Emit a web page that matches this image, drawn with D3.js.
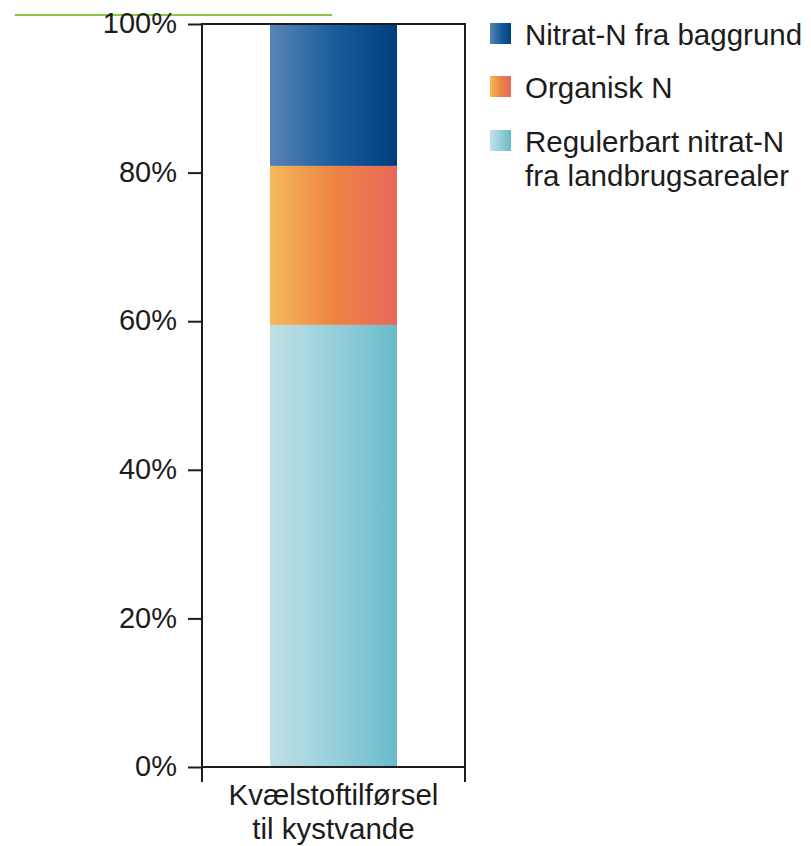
<!DOCTYPE html>
<html>
<head>
<meta charset="utf-8">
<script src="https://cdn.jsdelivr.net/npm/d3@7"></script>
<style>
  html, body { margin: 0; padding: 0; background: #fff; }
  svg { display: block; font-family: "Liberation Sans", Arial, sans-serif; }
</style>
</head>
<body>
<svg id="chart" width="811" height="846"></svg>
<script>
// Share of nitrogen load to coastal waters, by source (percent)
const categories = ["Kvælstoftilførsel\ntil kystvande"];
const seriesNames = ["Regulerbart nitrat-N fra landbrugsarealer", "Organisk N", "Nitrat-N fra baggrund"];
const regulerbart = [59.5];
const organisk = [21.4];
const baggrund = [19.1];
const yTicks = [0, 20, 40, 60, 80, 100];
const legendOrder = ["Nitrat-N fra baggrund", "Organisk N", "Regulerbart nitrat-N\nfra landbrugsarealer"];

const gradientStops = {
  "Nitrat-N fra baggrund": ["#5a84b4", "#1a5e9c", "#003e7c"],
  "Organisk N": ["#f6b95b", "#ec8543", "#e8675b"],
  "Regulerbart nitrat-N fra landbrugsarealer": ["#c0e1e7", "#98cfdb", "#68bbca"]
};

const FONT = "'Liberation Sans', Arial, sans-serif";
const INK = "#1c1c1c";

const svg = d3.select("#chart");
const defs = svg.append("defs");
const gradId = {};
Object.entries(gradientStops).forEach(([name, stops], i) => {
  const id = "grad" + i;
  gradId[name] = id;
  const g = defs.append("linearGradient").attr("id", id)
    .attr("x1", "0%").attr("x2", "100%").attr("y1", "0%").attr("y2", "0%");
  stops.forEach((c, j) => g.append("stop")
    .attr("offset", (j / (stops.length - 1) * 100) + "%").attr("stop-color", c));
});

const plotLeft = 202, plotRight = 465, plotTop = 24, plotBottom = 767;

// decorative rule at the top
svg.append("line").attr("x1", 15).attr("x2", 332).attr("y1", 15).attr("y2", 15)
  .attr("stroke", "#8cc540").attr("stroke-width", 2);

const y = d3.scaleLinear().domain([0, 100]).range([plotBottom, plotTop]);
const x = d3.scaleBand().domain(categories).range([plotLeft, plotRight]).paddingInner(0).paddingOuter(0.535);

// stacked data
const rows = categories.map((c, i) => ({
  cat: c,
  [seriesNames[0]]: regulerbart[i],
  [seriesNames[1]]: organisk[i],
  [seriesNames[2]]: baggrund[i]
}));
const stack = d3.stack().keys(seriesNames)(rows);

svg.append("g").selectAll("g").data(stack).join("g")
  .attr("fill", d => `url(#${gradId[d.key]})`)
  .selectAll("rect").data(d => d).join("rect")
  .attr("x", d => x(d.data.cat))
  .attr("width", x.bandwidth())
  .attr("y", d => y(d[1]))
  .attr("height", d => y(d[0]) - y(d[1]));

// frame
const frame = svg.append("g").attr("stroke", INK).attr("stroke-width", 2).attr("fill", "none");
frame.append("line").attr("x1", plotLeft).attr("x2", plotRight).attr("y1", plotTop).attr("y2", plotTop);
frame.append("line").attr("x1", plotLeft).attr("x2", plotLeft).attr("y1", plotTop - 1).attr("y2", plotBottom + 15);
frame.append("line").attr("x1", plotRight).attr("x2", plotRight).attr("y1", plotTop - 1).attr("y2", plotBottom + 15);
frame.append("line").attr("x1", plotLeft).attr("x2", plotRight).attr("y1", plotBottom).attr("y2", plotBottom);

// y axis
const yAxis = d3.axisLeft(y).tickValues(yTicks).tickFormat(d => d + "%").tickSize(14).tickPadding(11);
const ya = svg.append("g").attr("transform", `translate(${plotLeft},0)`).call(yAxis);
ya.select(".domain").remove();
ya.selectAll(".tick line").attr("stroke", INK).attr("stroke-width", 2);
ya.selectAll(".tick text").attr("font-size", 29).attr("fill", INK)
  .attr("font-family", FONT).attr("dy", "0.3em");

// category label
categories.forEach(c => {
  const lines = c.split("\n");
  const t = svg.append("text").attr("text-anchor", "middle").attr("font-size", 29.5)
    .attr("font-family", FONT).attr("fill", INK);
  lines.forEach((l, i) => t.append("tspan")
    .attr("x", x(c) + x.bandwidth() / 2).attr("y", 805 + i * 34).text(l));
});

// legend
const legTop = [23, 76, 130];
const legend = svg.append("g");
legendOrder.forEach((name, i) => {
  const key = name.replace("\n", " ");
  legend.append("rect").attr("x", 490).attr("y", legTop[i]).attr("width", 21).attr("height", 21)
    .attr("fill", `url(#${gradId[key]})`);
  const t = legend.append("text").attr("font-size", 29.5).attr("font-family", FONT).attr("fill", INK);
  name.split("\n").forEach((l, j) => t.append("tspan")
    .attr("x", 525).attr("y", legTop[i] + 22 + j * 34).text(l));
});
</script>
</body>
</html>
